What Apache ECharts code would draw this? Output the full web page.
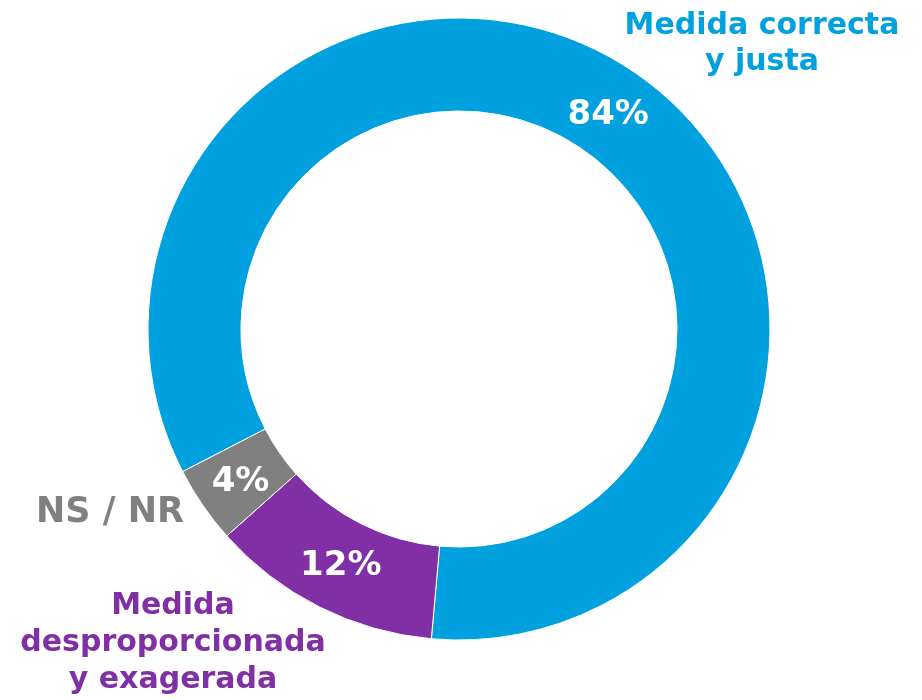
<!DOCTYPE html>
<html>
<head>
<meta charset="utf-8">
<title>Medida</title>
<script src="https://cdn.jsdelivr.net/npm/echarts@6/dist/echarts.min.js"></script>
<style>
  html, body { margin: 0; padding: 0; background: #fff; }
  #chart { width: 922px; height: 700px; }
</style>
</head>
<body>
<div id="chart"></div>
<script>
  // datos del gráfico
  const categories = ['Medida correcta\ny justa', 'Medida\ndesproporcionada\ny exagerada', 'NS / NR']
  const values = [84, 12, 4]
  const colors = ['#00A1DE', '#812FA4', '#808080']

  // pequeño ajuste de la posición de los porcentajes
  const labelOffsets = [[0, 8], [2, -2], [2, 2]]

  const font = '"DejaVu Sans", sans-serif'

  const chart = echarts.init(document.getElementById('chart'))

  chart.setOption({
    animation: false,
    series: [
      {
        type: 'pie',
        center: [459, 329],
        radius: [218, 311],
        startAngle: 207.3,
        clockwise: true,
        silent: true,
        itemStyle: {
          borderColor: '#fff',
          borderWidth: 1
        },
        label: {
          show: true,
          position: 'inside',
          formatter: '{c}%',
          color: '#fff',
          fontFamily: font,
          fontWeight: 'bold',
          fontSize: 34
        },
        labelLine: { show: false },
        data: values.map((v, i) => ({
          name: categories[i],
          value: v,
          itemStyle: { color: colors[i] },
          label: { offset: labelOffsets[i] }
        }))
      }
    ],
    // etiquetas de categoría
    graphic: [
      {
        type: 'text',
        style: {
          text: categories[0],
          x: 762,
          y: 8,
          textAlign: 'center',
          textVerticalAlign: 'top',
          fill: colors[0],
          font: 'bold 30px ' + font,
          lineHeight: 36
        }
      },
      {
        type: 'text',
        style: {
          text: categories[1],
          x: 173,
          y: 588,
          textAlign: 'center',
          textVerticalAlign: 'top',
          fill: colors[1],
          font: 'bold 30px ' + font,
          lineHeight: 37
        }
      },
      {
        type: 'text',
        style: {
          text: categories[2],
          x: 110,
          y: 513,
          textAlign: 'center',
          textVerticalAlign: 'middle',
          fill: colors[2],
          font: 'bold 35px ' + font
        }
      }
    ]
  })
</script>
</body>
</html>
